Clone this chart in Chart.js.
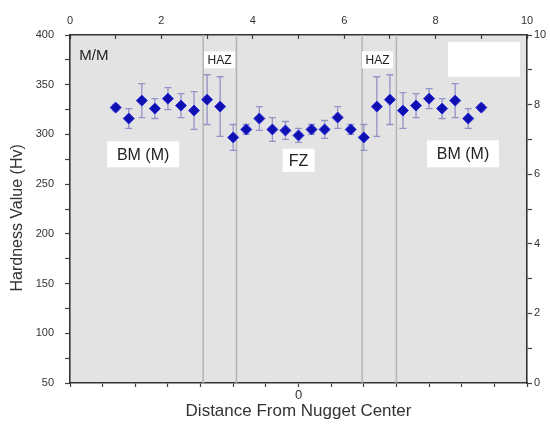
<!DOCTYPE html>
<html>
<head>
<meta charset="utf-8">
<script src="https://cdn.jsdelivr.net/npm/chart.js@4.4.1/dist/chart.umd.min.js"></script>
<style>
  html, body { margin: 0; padding: 0; background: #fff; }
</style>
</head>
<body>
<canvas id="hardnessChart" width="550" height="425"></canvas>
<script>
// Hardness profile across the weld (M/M joint)
const positions = [-5.6, -5.2, -4.8, -4.4, -4.0, -3.6, -3.2, -2.8, -2.4, -2.0, -1.6, -1.2, -0.8, -0.4,
    0, 0.4, 0.8, 1.2, 1.6, 2.0, 2.4, 2.8, 3.2, 3.6, 4.0, 4.4, 4.8, 5.2, 5.6];
const hardness = [327, 316, 334, 326, 336, 329, 324, 335, 328, 297, 305, 316, 305, 304,
    299, 305, 305, 317, 305, 297, 328, 335, 324, 329, 336, 326, 334, 316, 327];
const hardnessErr = [3, 10, 17, 10, 11, 12, 19, 25, 30, 13, 5, 12, 12, 9,
    7, 5, 9, 11, 5, 13, 30, 25, 18, 12, 10, 10, 17, 10, 3];

// zone boundaries (FZ / HAZ / BM), in distance units
const zoneBounds = [-2.92, -1.9, 1.95, 3.0];

// text labels placed in data coordinates
const notes = [
    { text: "M/M", x: -6.27, y: 380, size: 15, box: null },
    { text: "HAZ", x: -2.42, y: 375, size: 12, box: [31, 17] },
    { text: "HAZ", x: 2.42, y: 375, size: 12, box: [31, 17] },
    { text: "BM (M)", x: -4.76, y: 280, size: 16, box: [72, 26] },
    { text: "FZ", x: 0, y: 274, size: 16, box: [32, 23] },
    { text: "BM (M)", x: 5.04, y: 280.5, size: 16, box: [72, 27] },
    { text: "", x: 5.68, y: 375.5, size: 16, box: [72, 35] },
];

const FONT = "'Liberation Sans', Arial, sans-serif";
Chart.defaults.font.family = FONT;
Chart.defaults.color = "#333";

const plotBackground = {
    id: "plotBackground",
    beforeDraw(chart) {
        const { ctx, chartArea: a } = chart;
        ctx.save();
        ctx.fillStyle = "#fff";
        ctx.fillRect(0, 0, chart.width, chart.height);
        ctx.fillStyle = "#e3e3e3";
        ctx.fillRect(a.left, a.top, a.right - a.left, a.bottom - a.top);
        ctx.restore();
    },
};

const zonesAndNotes = {
    id: "zonesAndNotes",
    beforeDatasetsDraw(chart) {
        const { ctx, chartArea: a, scales } = chart;
        const x = scales.x, y = scales.y;
        ctx.save();
        // zone boundary lines
        ctx.strokeStyle = "#b4b4b4";
        ctx.lineWidth = 1.5;
        zoneBounds.forEach((b) => {
            const px = x.getPixelForValue(b);
            ctx.beginPath();
            ctx.moveTo(px, a.top);
            ctx.lineTo(px, a.bottom);
            ctx.stroke();
        });
        // labels with white boxes
        ctx.textAlign = "center";
        ctx.textBaseline = "middle";
        notes.forEach((n) => {
            const px = x.getPixelForValue(n.x);
            const py = y.getPixelForValue(n.y);
            if (n.box) {
                ctx.fillStyle = "#fff";
                ctx.fillRect(px - n.box[0] / 2, py - n.box[1] / 2, n.box[0], n.box[1]);
            }
            if (n.text) {
                ctx.fillStyle = "#222";
                ctx.font = `${n.size}px ${FONT}`;
                ctx.fillText(n.text, px, py + 1);
            }
        });
        ctx.restore();
    },
};

const errorBars = {
    id: "errorBars",
    beforeDatasetsDraw(chart) {
        const { ctx, scales } = chart;
        const x = scales.x, y = scales.y;
        ctx.save();
        ctx.strokeStyle = "#9393c6";
        ctx.lineWidth = 1.3;
        positions.forEach((p, i) => {
            const px = x.getPixelForValue(p);
            const top = y.getPixelForValue(hardness[i] + hardnessErr[i]);
            const bot = y.getPixelForValue(hardness[i] - hardnessErr[i]);
            ctx.beginPath();
            ctx.moveTo(px, top);
            ctx.lineTo(px, bot);
            ctx.moveTo(px - 3.5, top);
            ctx.lineTo(px + 3.5, top);
            ctx.moveTo(px - 3.5, bot);
            ctx.lineTo(px + 3.5, bot);
            ctx.stroke();
        });
        ctx.restore();
    },
};

const axisGrid = (len) => ({
    display: true,
    drawOnChartArea: false,
    drawTicks: true,
    tickLength: len,
    tickColor: "#444",
    tickWidth: 1.2,
});
const axisBorder = { display: true, color: "#333", width: 1.6 };

new Chart(document.getElementById("hardnessChart"), {
    type: "scatter",
    data: {
        datasets: [
            {
                data: positions.map((p, i) => ({ x: p, y: hardness[i] })),
                pointStyle: "rectRot",
                pointRadius: 5.5,
                backgroundColor: "#1010b0",
                borderColor: "#2a2ae0",
                borderWidth: 1,
                xAxisID: "x",
                yAxisID: "y",
            },
        ],
    },
    options: {
        responsive: false,
        animation: false,
        layout: { padding: 0 },
        plugins: {
            legend: { display: false },
            tooltip: { enabled: false },
        },
        scales: {
            x: {
                type: "linear",
                position: "bottom",
                min: -7,
                max: 7,
                grid: axisGrid(4),
                border: axisBorder,
                ticks: {
                    stepSize: 1,
                    autoSkip: false,
                    maxRotation: 0,
                    padding: 1,
                    font: { size: 13 },
                    callback: (v) => (v === 0 ? "0" : ""),
                },
                title: {
                    display: true,
                    text: "Distance From Nugget Center",
                    font: { size: 17 },
                    color: "#333",
                    padding: { top: 0, bottom: 3 },
                },
                afterFit: (s) => { s.height = 42; },
            },
            xTop: {
                type: "linear",
                position: "top",
                min: 0,
                max: 10,
                grid: axisGrid(-4),
                border: axisBorder,
                ticks: {
                    stepSize: 1,
                    autoSkip: false,
                    maxRotation: 0,
                    padding: 11,
                    font: { size: 11 },
                    callback: (v) => (v % 2 === 0 ? String(v) : ""),
                },
                afterFit: (s) => { s.height = 35; },
            },
            y: {
                type: "linear",
                position: "left",
                min: 50,
                max: 400,
                grid: axisGrid(5),
                border: axisBorder,
                ticks: {
                    stepSize: 25,
                    autoSkip: false,
                    padding: 11,
                    font: { size: 11 },
                    callback: (v) => (v % 50 === 0 ? String(v) : ""),
                },
                title: {
                    display: true,
                    text: "Hardness Value (Hv)    ",
                    font: { size: 16 },
                    color: "#333",
                    padding: { top: 8, bottom: 0 },
                },
                afterFit: (s) => { s.width = 70; },
            },
            yRight: {
                type: "linear",
                position: "right",
                min: 0,
                max: 10,
                grid: axisGrid(5),
                border: axisBorder,
                ticks: {
                    stepSize: 1,
                    autoSkip: false,
                    padding: 2,
                    font: { size: 11 },
                    callback: (v) => (v % 2 === 0 ? String(v) : ""),
                },
                afterFit: (s) => { s.width = 23; },
            },
        },
    },
    plugins: [plotBackground, zonesAndNotes, errorBars],
});
</script>
</body>
</html>
